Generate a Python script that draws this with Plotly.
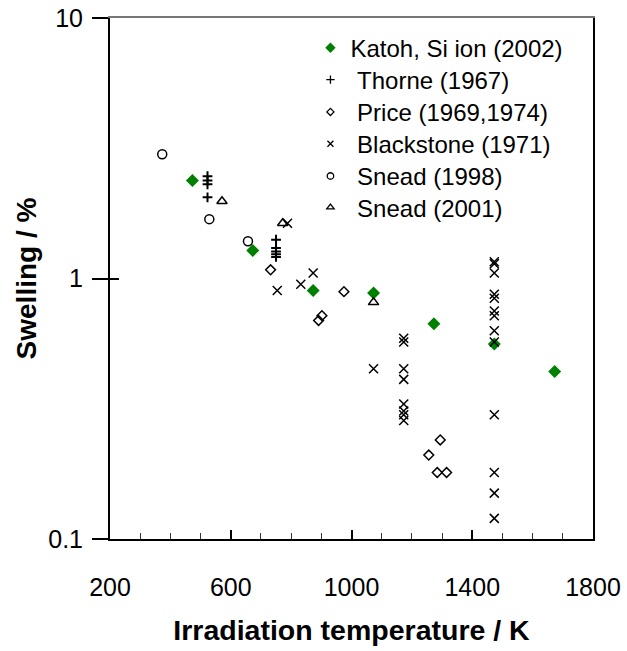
import plotly.graph_objects as go

# Swelling of SiC versus irradiation temperature, several data sources
katoh_T = [473, 673, 873, 1073, 1273, 1473, 1673]
katoh_S = [2.38, 1.28, 0.90, 0.88, 0.67, 0.56, 0.44]

thorne_T = [523, 523, 523, 523, 750, 750, 750, 750, 750]
thorne_S = [2.47, 2.38, 2.30, 2.05, 1.41, 1.31, 1.27, 1.24, 1.21]

price_T = [732, 891, 902, 975, 1256, 1294, 1284, 1315]
price_S = [1.08, 0.69, 0.72, 0.89, 0.21, 0.24, 0.18, 0.18]

blackstone_T = [754, 788, 832, 873, 1073,
                1173, 1173, 1173, 1173, 1173, 1173, 1173, 1173,
                1473, 1473, 1473, 1473, 1473, 1473, 1473, 1473, 1473,
                1473, 1473, 1473, 1473]
blackstone_S = [0.90, 1.63, 0.95, 1.05, 0.45,
                0.59, 0.57, 0.45, 0.41, 0.33, 0.31, 0.30, 0.285,
                1.16, 1.14, 1.05, 0.87, 0.84, 0.75, 0.72, 0.63, 0.57,
                0.30, 0.18, 0.15, 0.12]

snead98_T = [373, 529, 657]
snead98_S = [3.0, 1.69, 1.39]

snead01_T = [571, 772, 1073]
snead01_S = [1.98, 1.63, 0.81]

x_ticks = [200, 600, 1000, 1400, 1800]
y_ticks = [0.1, 1, 10]
y_ticktext = ["0.1", "1", "10"]

FONT = "Liberation Sans, Arial, sans-serif"
NB = "\u00a0"

series = [
    # name, x, y, plot symbol, plot size, legend size, colour, line width
    ("Katoh, Si ion (2002)", katoh_T, katoh_S, "diamond", 10, 8, "#008000", 0),
    (NB + "Thorne (1967)", thorne_T, thorne_S, "cross-thin-open", 7, 6, "black", 2),
    (NB + "Price (1969,1974)", price_T, price_S, "diamond-open", 7.5, 5.5, "black", 1.5),
    (NB + "Blackstone (1971)", blackstone_T, blackstone_S, "x-thin-open", 9, 6, "black", 1.5),
    (NB + "Snead (1998)", snead98_T, snead98_S, "circle-open", 9, 6.5, "black", 1.5),
    (NB + "Snead (2001)", snead01_T, snead01_S, "triangle-up-open", 9, 6.5, "black", 1.5),
]

# legend rows (paper y of each row centre)
legend_rows = [0.942, 0.881, 0.819, 0.758, 0.696, 0.636]

fig = go.Figure()

# plotted points
for name, xs, ys, sym, size, _, col, lw in series:
    fig.add_trace(go.Scatter(
        x=xs, y=ys, mode="markers", name=name, showlegend=False,
        marker=dict(symbol=sym, size=size, color=col,
                    line=dict(width=lw, color=col)),
    ))

# legend entries with smaller symbols, one legend box per row
legend_layout = {}
for i, (name, _, _, sym, _, lsize, col, lw) in enumerate(series):
    key = "legend" if i == 0 else f"legend{i + 1}"
    fig.add_trace(go.Scatter(
        x=[None], y=[None], mode="markers", name=name, showlegend=True,
        legend=key,
        marker=dict(symbol=sym, size=lsize, color=col,
                    line=dict(width=min(lw, 1.3), color=col)),
    ))
    legend_layout[key] = dict(
        x=0.415, y=legend_rows[i], xanchor="left", yanchor="middle",
        bgcolor="rgba(0,0,0,0)", borderwidth=0,
        font=dict(family=FONT, size=24, color="black"),
        itemwidth=30, tracegroupgap=0,
    )

fig.update_layout(
    width=627, height=651,
    margin=dict(l=110, r=34, t=18, b=112),
    paper_bgcolor="white", plot_bgcolor="white",
    font=dict(family=FONT, size=24, color="black"),
    showlegend=True,
    **legend_layout,
    xaxis=dict(
        range=[200, 1800], tickvals=x_ticks, automargin=False,
        showgrid=False, zeroline=False,
        showline=True, linecolor="black", linewidth=2,
        ticks="inside", ticklen=9, tickwidth=2, tickcolor="black",
        minor=dict(dtick=100, ticks="inside", ticklen=6, tickwidth=1,
                   tickcolor="#333", showgrid=False),
        ticklabelstandoff=25,
        tickfont=dict(family=FONT, size=25),
        title=dict(text="<b>Irradiation temperature / K</b>",
                   font=dict(family=FONT, size=28.5), standoff=20),
    ),
    yaxis=dict(
        type="log", range=[-1, 1], tickvals=y_ticks, ticktext=y_ticktext,
        automargin=False,
        showgrid=False, zeroline=False,
        showline=True, linecolor="black", linewidth=2,
        ticks="outside", ticklen=16, tickwidth=1.5, tickcolor="black",
        ticklabelstandoff=4,
        tickfont=dict(family=FONT, size=25),
        title=dict(text="<b>Swelling / %</b>",
                   font=dict(family=FONT, size=28), standoff=3),
    ),
    # inner halves of the y ticks
    yaxis2=dict(
        type="log", range=[-1, 1], overlaying="y", side="left", anchor="x",
        automargin=False,
        tickvals=y_ticks, showticklabels=False, showgrid=False,
        zeroline=False, showline=False,
        ticks="inside", ticklen=9, tickwidth=1.5, tickcolor="black",
    ),
    # top frame line
    xaxis2=dict(
        range=[200, 1800], overlaying="x", side="top", anchor="y",
        automargin=False,
        showline=True, linecolor="#777", linewidth=2,
        showticklabels=False, ticks="", showgrid=False, zeroline=False,
    ),
    # right frame line
    yaxis3=dict(
        type="log", range=[-1, 1], overlaying="y", side="right", anchor="x",
        automargin=False,
        showline=True, linecolor="black", linewidth=1.5,
        showticklabels=False, ticks="", showgrid=False, zeroline=False,
    ),
)

# dummy traces so the overlay axes are drawn
fig.add_trace(go.Scatter(x=[None], y=[None], xaxis="x2", yaxis="y2",
                         showlegend=False, hoverinfo="skip"))
fig.add_trace(go.Scatter(x=[None], y=[None], xaxis="x", yaxis="y3",
                         showlegend=False, hoverinfo="skip"))

fig.write_html("out.html")
